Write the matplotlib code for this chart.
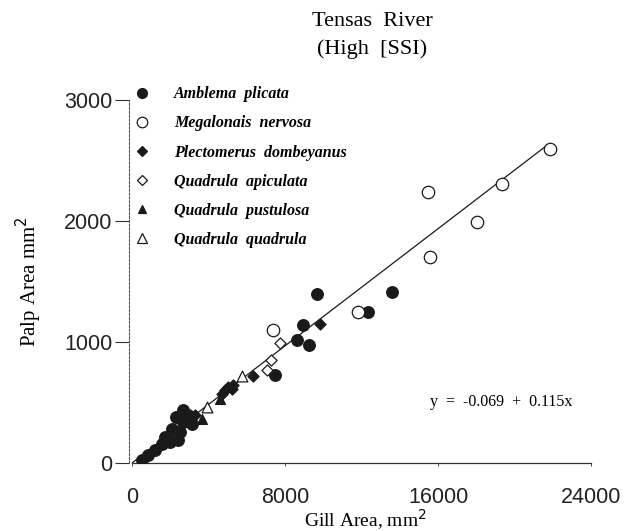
import matplotlib
matplotlib.use("Agg")
import matplotlib.pyplot as plt
from matplotlib.lines import Line2D

# ---- data ----
amblema_x = [13600, 9680, 12340, 8940, 8630, 9260, 7480,
             2667, 2928, 2667, 3137, 2092, 2405, 1726, 1569, 1203, 837, 523, 2300, 2510, 1987]
amblema_y = [1412, 1395, 1247, 1140, 1016, 975, 727,
             437, 396, 338, 322, 280, 190, 214, 157, 107, 66, 25, 380, 256, 173]

megalonais_x = [21860, 19350, 15480, 18040, 15590, 11820, 7380]
megalonais_y = [2594, 2305, 2240, 1990, 1700, 1247, 1100]

plectomerus_x = [9830, 6330, 5230, 5020, 5280, 4860, 4710, 3290]
plectomerus_y = [1148, 718, 611, 627, 643, 602, 569, 396]

apiculata_x = [7740, 7270, 7060]
apiculata_y = [991, 851, 768]

pustulosa_x = [3660, 4600, 2000]
pustulosa_y = [363, 528, 230]

quadrula_x = [5750, 3920]
quadrula_y = [720, 462]

line_intercept = 0.0
line_slope = 0.121
line_xmax = 21700

species = ["Amblema  plicata", "Megalonais  nervosa", "Plectomerus  dombeyanus",
           "Quadrula  apiculata", "Quadrula  pustulosa", "Quadrula  quadrula"]

x_ticks = [0, 8000, 16000, 24000]
y_ticks = [0, 1000, 2000, 3000]

# ---- figure ----
W, H = 632, 531
fig = plt.figure(figsize=(W / 100, H / 100), dpi=100)
ax_l, ax_r, ax_t, ax_b = 132, 591, 100, 463
ax = fig.add_axes([ax_l / W, 1 - ax_b / H, (ax_r - ax_l) / W, (ax_b - ax_t) / H])

ink = "#1a1a1a"
styles = [
    dict(marker="o", s=70, facecolor=ink, edgecolor=ink),
    dict(marker="o", s=80, facecolor="white", edgecolor=ink),
    dict(marker="D", s=32, facecolor=ink, edgecolor=ink),
    dict(marker="D", s=32, facecolor="white", edgecolor=ink),
    dict(marker="^", s=50, facecolor=ink, edgecolor=ink),
    dict(marker="^", s=60, facecolor="white", edgecolor=ink),
]
xs = [amblema_x, megalonais_x, plectomerus_x, apiculata_x, pustulosa_x, quadrula_x]
ys = [amblema_y, megalonais_y, plectomerus_y, apiculata_y, pustulosa_y, quadrula_y]

lx = [0, line_xmax]
ly = [line_intercept + line_slope * v for v in lx]
ax.plot(lx, ly, color=ink, lw=0.9, zorder=1)

for x, y, st in zip(xs, ys, styles):
    ax.scatter(x, y, linewidths=0.9, zorder=3, **st)

for s in ["top", "right"]:
    ax.spines[s].set_visible(False)
ax.spines["left"].set_position(("outward", 2))
ax.spines["left"].set_linestyle((0, (2, 1.5)))
ax.spines["left"].set_color("#555555")
ax.spines["left"].set_linewidth(0.8)
ax.spines["bottom"].set_color("#333333")
ax.spines["bottom"].set_linewidth(0.9)

ax.set_xlim(0, 24000)
ax.set_ylim(0, 3000)
ax.set_xticks(x_ticks)
ax.set_yticks(y_ticks)
ax.set_xticklabels([str(t) for t in x_ticks])
ax.set_yticklabels([str(t) for t in y_ticks])
ax.tick_params(axis="both", labelsize=15.5, labelfontfamily="Liberation Sans",
               labelcolor="#222222", color="#333333")
ax.tick_params(axis="y", direction="out", length=10, width=0.8, pad=2)
ax.tick_params(axis="x", direction="out", length=2, width=0.6, pad=15)

ax.set_xlabel("Gill Area, mm$^2$", fontfamily="Liberation Serif", fontsize=14)
ax.xaxis.set_label_coords((365 - ax_l) / (ax_r - ax_l), (ax_b - 507) / (ax_b - ax_t))
ax.xaxis.label.set_va("top")
ax.set_ylabel("Palp Area mm$^2$", fontfamily="Liberation Serif", fontsize=15)
ax.yaxis.set_label_coords((44 - ax_l) / (ax_r - ax_l), (ax_b - 282) / (ax_b - ax_t))

ax.text((572 - ax_l) / (ax_r - ax_l), (ax_b - 402) / (ax_b - ax_t),
        "y  =  -0.069  +  0.115x", transform=ax.transAxes,
        ha="right", va="center", fontfamily="Liberation Serif", fontsize=11.5)

fig.text(372 / W, 1 - 21 / H, "Tensas  River", ha="center", va="center",
         fontfamily="Liberation Serif", fontsize=16)
fig.text(372 / W, 1 - 49 / H, "(High  [SSI)", ha="center", va="center",
         fontfamily="Liberation Serif", fontsize=16)

handles = [Line2D([], [], linestyle="none", marker=st["marker"],
                  markersize=(st["s"] ** 0.5) * 0.85,
                  markerfacecolor=st["facecolor"], markeredgecolor=st["edgecolor"],
                  markeredgewidth=0.9) for st in styles]
leg = fig.legend(handles, species, loc="upper left",
                 bbox_to_anchor=(126 / W, 1 - 80 / H), frameon=False,
                 prop=dict(family="Liberation Serif", style="italic", weight="bold", size=11.5),
                 labelspacing=0.82, handletextpad=1.4, handlelength=1.2, borderaxespad=0)

fig.savefig("out.png", dpi=100)
